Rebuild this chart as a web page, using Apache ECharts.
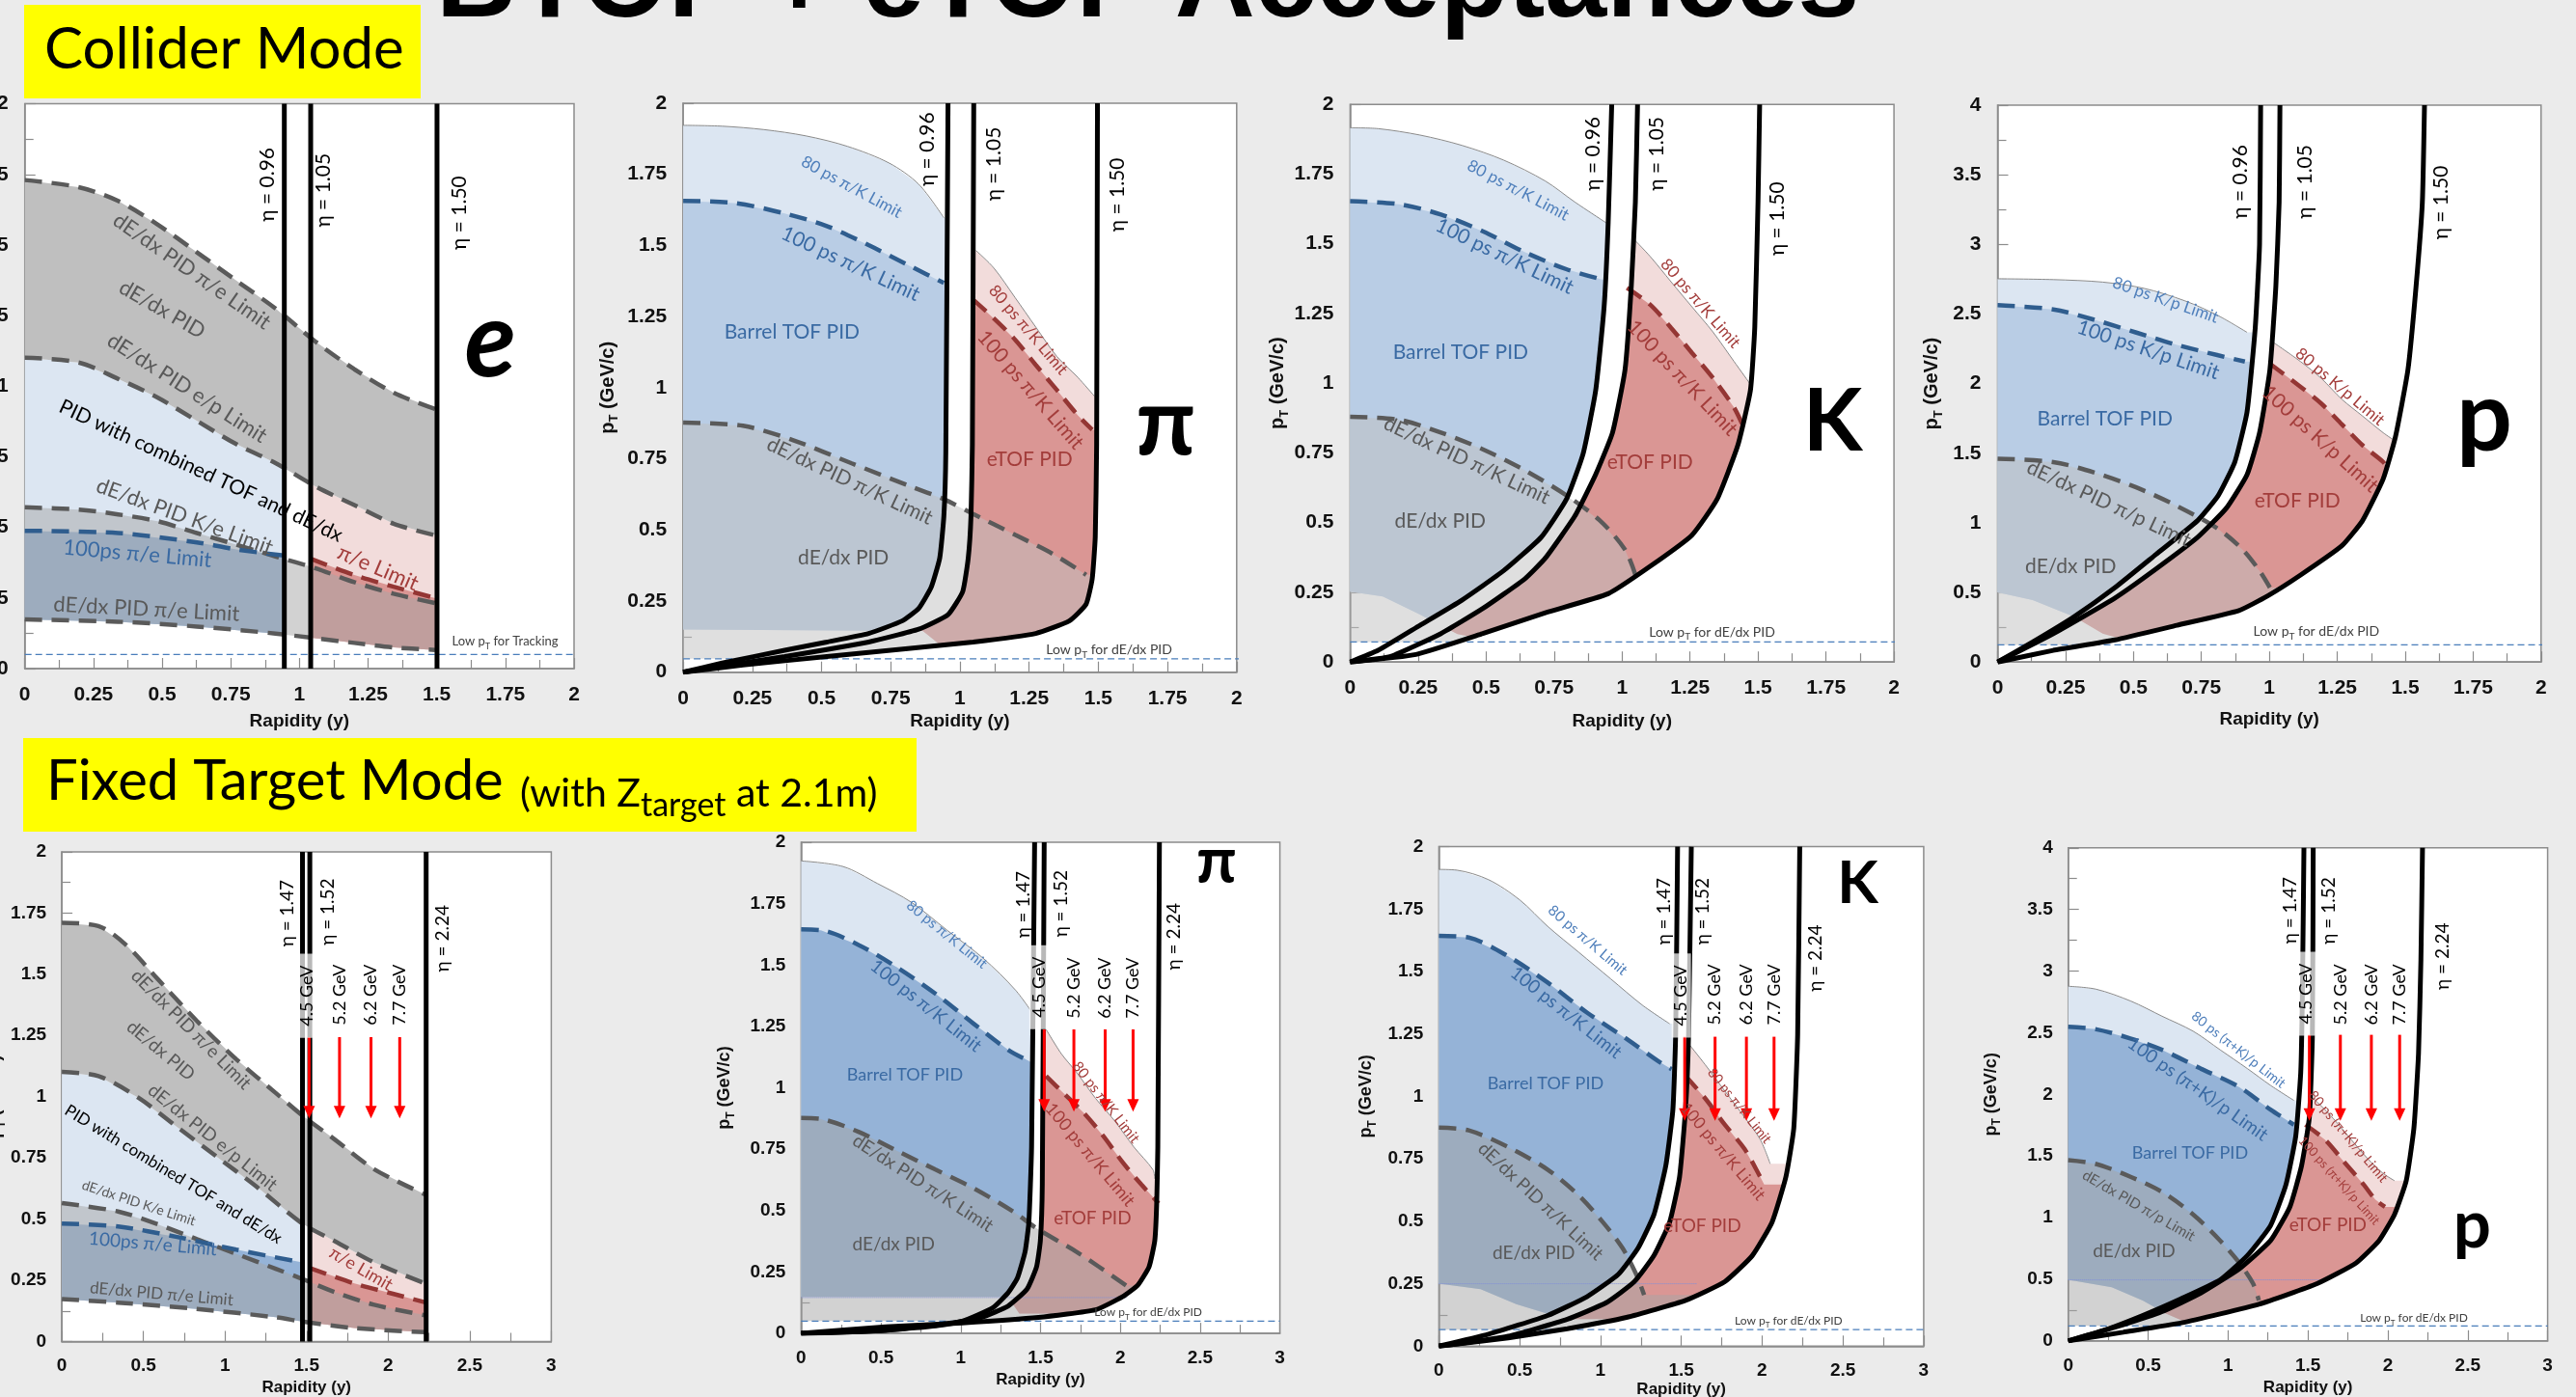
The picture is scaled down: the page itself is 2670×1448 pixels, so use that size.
<!DOCTYPE html>
<html><head><meta charset="utf-8">
<script src="https://cdn.jsdelivr.net/npm/echarts/dist/echarts.min.js"></script>
<style>html,body{margin:0;padding:0;background:#ebebeb;}#c{width:2670px;height:1448px;}</style>
</head><body><div id="c"></div>
<script>
// ---------------- DATA ----------------
// Panel 1: collider, electrons  [rapidity, pT]
const p1U   = [[0,1.73],[.196,1.705],[.34,1.656],[.483,1.573],[.627,1.474],[.77,1.374],[.913,1.275],[1.057,1.159],[1.2,1.06],[1.343,.977],[1.494,.919]];
const p1E   = [[0,1.101],[.196,1.084],[.34,1.026],[.483,.96],[.627,.877],[.77,.795],[.913,.728],[1.057,.646],[1.2,.579],[1.343,.513],[1.494,.472]];
const p1K   = [[0,.571],[.196,.563],[.34,.546],[.483,.522],[.627,.48],[.77,.439],[.913,.397],[1.057,.356],[1.2,.306],[1.343,.265],[1.494,.232]];
const p1B   = [[0,.488],[.34,.48],[.627,.447],[.77,.422],[.945,.4]];
const p1R   = [[1.041,.389],[1.2,.331],[1.343,.29],[1.501,.248]];
const p1Bot = [[0,.174],[.34,.166],[.627,.149],[.913,.124],[1.2,.091],[1.343,.075],[1.494,.066]];
const p1Eta = [.945, 1.041, 1.501];
const p1LowPT = .05;

// Panel 2: collider, pions
const p2Tof80   = [[0,1.922],[.141,1.919],[.292,1.907],[.443,1.885],[.594,1.848],[.745,1.789],[.851,1.715],[.942,1.597]];
const p2Tof100  = [[0,1.656],[.186,1.649],[.367,1.612],[.519,1.568],[.67,1.501],[.821,1.427],[.942,1.368]];
const p2Dedx    = [[0,.877],[.216,.866],[.398,.815],[.609,.734],[.821,.653],[.942,.608],[1.048,.556],[1.199,.483],[1.335,.416],[1.456,.342]];
const p2Etof80  = [[1.058,1.482],[1.123,1.42],[1.199,1.317],[1.274,1.213],[1.35,1.11],[1.426,1.036],[1.486,.97]];
const p2Etof100 = [[1.048,1.309],[1.123,1.243],[1.199,1.169],[1.274,1.08],[1.35,.992],[1.426,.903],[1.478,.852]];
const p2Eta096  = [[0,0],[.141,.032],[.367,.077],[.519,.106],[.67,.136],[.791,.18],[.851,.224],[.896,.298],[.927,.401],[.942,.549],[.949,.77],[.957,2.0]];
const p2Eta105  = [[0,0],[.141,.021],[.367,.055],[.67,.106],[.851,.151],[.957,.202],[1.01,.283],[1.03,.401],[1.04,.549],[1.045,.8],[1.05,2.0]];
const p2Eta150  = [[0,0],[.216,.025],[.519,.055],[.821,.084],[1.048,.106],[1.274,.136],[1.395,.18],[1.456,.239],[1.478,.328],[1.489,.475],[1.494,.8],[1.497,2.0]];
const p2LowB    = [[0,.15],[.866,.145],[.942,.085],[3.5,.085]];
const p2LowPT = .047;

// Panel 3: collider, kaons
const p3Tof80   = [[0,1.916],[.103,1.913],[.257,1.89],[.411,1.853],[.565,1.8],[.718,1.725],[.826,1.65],[.942,1.575]];
const p3Tof100  = [[0,1.653],[.18,1.642],[.334,1.605],[.488,1.545],[.642,1.47],[.795,1.409],[.926,1.372]];
const p3Dedx    = [[0,.88],[.18,.869],[.334,.823],[.488,.763],[.642,.688],[.795,.598],[.918,.508],[1.011,.403],[1.049,.313]];
const p3Etof80  = [[1.038,1.522],[1.103,1.455],[1.18,1.364],[1.257,1.274],[1.334,1.184],[1.411,1.079],[1.472,.996]];
const p3Etof100 = [[1.018,1.342],[1.103,1.282],[1.18,1.199],[1.257,1.109],[1.334,1.019],[1.411,.914],[1.442,.853]];
const p3Eta096  = [[0,0],[.103,.042],[.257,.132],[.411,.222],[.565,.328],[.703,.448],[.795,.583],[.857,.748],[.903,.974],[.934,1.274],[.949,1.575],[.962,2.0]];
const p3Eta105  = [[0,0],[.149,.02],[.334,.102],[.488,.192],[.642,.298],[.718,.373],[.826,.523],[.903,.673],[.965,.823],[1.011,1.049],[1.034,1.349],[1.049,1.65],[1.057,2.0]];
const p3Eta150  = [[0,0],[.242,.027],[.488,.102],[.718,.177],[.949,.245],[1.103,.343],[1.257,.455],[1.349,.583],[1.426,.778],[1.472,.974],[1.488,1.199],[1.5,1.65],[1.506,2.0]];
const p3LowB    = [[0,.252],[.12,.235],[.257,.17],[.395,.1],[.45,.09],[3.5,.09]];
const p3LowPT = .072;

// Panel 4: collider, protons
const p4Tof80   = [[0,2.753],[.205,2.747],[.387,2.729],[.539,2.684],[.69,2.594],[.812,2.488],[.918,2.368]];
const p4Tof100  = [[0,2.563],[.205,2.533],[.357,2.458],[.508,2.368],[.66,2.278],[.812,2.203],[.91,2.158]];
const p4Dedx    = [[0,1.461],[.205,1.436],[.357,1.361],[.508,1.256],[.66,1.121],[.812,.956],[.903,.805],[.964,.655],[1.002,.535]];
const p4Etof80  = [[1.017,2.293],[1.115,2.158],[1.191,2.038],[1.267,1.887],[1.343,1.767],[1.419,1.647],[1.464,1.587]];
const p4Etof100 = [[1.002,2.143],[1.115,1.977],[1.191,1.857],[1.267,1.707],[1.343,1.557],[1.419,1.437],[1.434,1.391]];
const p4Eta096  = [[0,0],[.129,.144],[.281,.325],[.432,.535],[.584,.775],[.736,1.016],[.812,1.196],[.873,1.437],[.918,1.797],[.948,2.398],[.964,3.0],[.968,4.0]];
const p4Eta105  = [[0,0],[.205,.204],[.432,.46],[.584,.67],[.736,.896],[.842,1.106],[.918,1.346],[.964,1.647],[1.002,2.098],[1.024,2.699],[1.036,3.3],[1.039,4.0]];
const p4Eta150  = [[0,0],[.205,.084],[.432,.159],[.66,.264],[.888,.37],[.994,.475],[1.115,.625],[1.267,.835],[1.343,1.016],[1.419,1.316],[1.464,1.617],[1.51,2.098],[1.54,2.699],[1.563,3.3],[1.571,4.0]];
const p4LowB    = [[0,.5],[.129,.445],[.281,.325],[.387,.204],[.45,.17],[3.5,.17]];
const p4LowPT = .123;

// Panel 5: fixed target, electrons
const p5U   = [[0,1.71],[.224,1.697],[.393,1.62],[.587,1.481],[.828,1.309],[1.069,1.153],[1.311,1.015],[1.48,.92],[1.673,.825],[1.914,.704],[2.228,.6]];
const p5E   = [[0,1.101],[.224,1.084],[.466,.997],[.707,.876],[.949,.755],[1.19,.634],[1.48,.479],[1.673,.41],[1.914,.323],[2.228,.237]];
const p5K   = [[0,.565],[.345,.531],[.587,.479],[.828,.418],[1.069,.358],[1.311,.297],[1.48,.254],[1.673,.202],[1.914,.15],[2.228,.107]];
const p5B   = [[0,.482],[.345,.47],[.707,.427],[1.069,.375],[1.475,.323]];
const p5R   = [[1.52,.3],[1.793,.237],[2.035,.194],[2.233,.159]];
const p5Bot = [[0,.173],[.345,.159],[.828,.133],[1.311,.099],[1.48,.081],[1.793,.055],[2.228,.038]];
const p5Eta = [1.475, 1.52, 2.233];

// Panel 6: fixed target, pions
const p6Tof80   = [[0,1.924],[.263,1.901],[.478,1.832],[.69,1.756],[.914,1.642],[1.14,1.528],[1.343,1.398],[1.463,1.292]];
const p6Tof100  = [[0,1.645],[.124,1.642],[.363,1.581],[.602,1.49],[.842,1.383],[1.081,1.261],[1.296,1.155],[1.451,1.101]];
const p6Dedx    = [[0,.877],[.124,.873],[.363,.82],[.602,.743],[.842,.667],[1.081,.591],[1.32,.5],[1.487,.423],[1.726,.332],[2.037,.195]];
const p6Etof80  = [[1.535,1.238],[1.63,1.139],[1.726,1.063],[1.845,.957],[1.965,.865],[2.085,.759],[2.204,.667],[2.216,.629]];
const p6Etof100 = [[1.535,1.048],[1.654,.972],[1.774,.896],[1.893,.804],[2.013,.698],[2.132,.606],[2.24,.53]];
const p6Eta147  = [[0,0],[.292,.005],[.65,.02],[1.009,.05],[1.2,.104],[1.296,.165],[1.355,.225],[1.403,.332],[1.427,.454],[1.444,.759],[1.463,2.0]];
const p6Eta152  = [[0,0],[.531,.012],[.889,.035],[1.128,.065],[1.296,.111],[1.415,.18],[1.475,.271],[1.499,.378],[1.511,.606],[1.523,2.0]];
const p6Eta224  = [[0,0],[.531,.027],[1.009,.043],[1.487,.065],[1.845,.096],[2.013,.149],[2.108,.195],[2.18,.271],[2.216,.378],[2.228,.53],[2.235,.759],[2.245,2.0]];
const p6LowB    = [[0,.149],[1.296,.149],[1.367,.081],[3.5,.081]];
const p6LowPT = .05;

// Panel 7: fixed target, kaons
const p7Tof80   = [[0,1.909],[.112,1.906],[.307,1.868],[.502,1.786],[.673,1.681],[.868,1.576],[1.063,1.471],[1.258,1.366],[1.428,1.291]];
const p7Tof100  = [[0,1.643],[.185,1.636],[.429,1.561],[.673,1.456],[.916,1.336],[1.16,1.231],[1.355,1.142],[1.44,1.109]];
const p7Dedx    = [[0,.875],[.185,.864],[.429,.797],[.673,.707],[.868,.602],[1.014,.497],[1.136,.393],[1.221,.288],[1.27,.205]];
const p7Etof80  = [[1.538,1.217],[1.648,1.127],[1.769,1.022],[1.891,.917],[1.989,.827],[2.05,.73]];
const p7Etof100 = [[1.526,1.082],[1.648,.992],[1.769,.887],[1.891,.79],[1.989,.677],[2.013,.647]];
const p7Eta147  = [[0,0],[.307,.048],[.673,.123],[.916,.198],[1.111,.288],[1.233,.393],[1.331,.527],[1.404,.722],[1.448,.947],[1.465,1.246],[1.477,2.0]];
const p7Eta152  = [[0,0],[.429,.04],[.795,.108],[1.038,.175],[1.209,.258],[1.331,.363],[1.428,.497],[1.489,.677],[1.526,.947],[1.545,1.246],[1.562,2.0]];
const p7Eta224  = [[0,0],[.429,.033],[.795,.07],[1.16,.115],[1.526,.183],[1.769,.258],[1.94,.363],[2.062,.497],[2.147,.677],[2.196,.872],[2.22,1.246],[2.233,2.0]];
const p7LowB    = [[0,.25],[.258,.228],[.478,.168],[.673,.13],[.746,.108],[3.5,.108]];
const p7LowPT = .066;

// Panel 8: fixed target, protons
const p8Tof80   = [[0,2.877],[.175,2.853],[.393,2.756],[.587,2.634],[.781,2.513],[.951,2.361],[1.121,2.209],[1.266,2.073],[1.412,1.951]];
const p8Tof100  = [[0,2.549],[.175,2.528],[.393,2.452],[.587,2.361],[.829,2.209],[1.072,2.058],[1.266,1.876],[1.412,1.754]];
const p8Dedx    = [[0,1.466],[.175,1.435],[.393,1.329],[.587,1.208],[.781,1.026],[.951,.813],[1.072,.631],[1.157,.464],[1.193,.328]];
const p8Etof80  = [[1.509,1.997],[1.63,1.845],[1.751,1.663],[1.872,1.481],[1.969,1.36],[2.042,1.299]];
const p8Etof100 = [[1.484,1.754],[1.606,1.633],[1.727,1.451],[1.848,1.269],[1.921,1.147],[1.982,1.087]];
const p8Eta147  = [[0,0],[.223,.085],[.466,.206],[.708,.343],[.951,.495],[1.121,.692],[1.266,.935],[1.363,1.269],[1.424,1.663],[1.455,2.179],[1.465,2.786],[1.475,4.0]];
const p8Eta152  = [[0,0],[.344,.131],[.587,.237],[.829,.388],[1.072,.586],[1.266,.813],[1.387,1.087],[1.46,1.42],[1.509,1.815],[1.528,2.483],[1.533,4.0]];
const p8Eta224  = [[0,0],[.344,.07],[.708,.146],[1.193,.297],[1.557,.464],[1.8,.631],[1.945,.813],[2.042,1.026],[2.115,1.299],[2.163,1.724],[2.192,2.331],[2.207,3.09],[2.217,4.0]];
const p8LowB    = [[0,.495],[.272,.434],[.466,.328],[.611,.222],[.72,.161],[3.5,.161]];
const p8LowPT = .121;

// Fixed-target beam energy arrows: x positions, [top, bottom]
const energyLabels = ['4.5 GeV','5.2 GeV','6.2 GeV','7.7 GeV'];
const p5ArrowX = [1.516,1.702,1.895,2.071], p5ArrowY = [1.243,.911];
const p6ArrowX = [1.523,1.709,1.905,2.08],  p6ArrowY = [1.238,.903];
const p7ArrowX = [1.521,1.709,1.903,2.074], p7ArrowY = [1.239,.902];
const p8ArrowX = [1.509,1.703,1.897,2.074], p8ArrowY = [2.483,1.785];

// ---------------- helpers ----------------
const LATO = 'Lato, "Noto Sans", sans-serif';
const ARIAL = '"Liberation Sans", Arial, sans-serif';
const COL = {lb:'#dce6f2', cb:'#b9cde5', fb:'#95b3d7', lp:'#f2dcdb', rd:'#da9694',
  ovC:'rgba(191,191,191,0.5)', ovF:'rgba(165,165,165,0.5)', band:'#bfbfbf',
  dG:'#5a5a5a', dB:'#2f5d8e', dR:'#943634', thin:'#8a8a8a'};
const DASH = [18,10];

function yAt(c,x){ if(x<=c[0][0])return c[0][1]; const n=c.length; if(x>=c[n-1][0])return c[n-1][1];
  for(let i=1;i<n;i++){ if(x<=c[i][0]){const a=c[i-1],b=c[i]; return a[1]+(b[1]-a[1])*(x-a[0])/(b[0]-a[0]);} } }
function etaX(e,p){ if(p<=e[0][1])return e[0][0]; const n=e.length; if(p>=e[n-1][1])return e[n-1][0];
  for(let i=1;i<n;i++){ if(p<=e[i][1]){const a=e[i-1],b=e[i]; return a[0]+(b[0]-a[0])*(p-a[1])/(b[1]-a[1]);} } }
function cross(f,s){ if(typeof s==='number')return s; let lo=0,hi=3.5;
  for(let i=0;i<50;i++){const m=(lo+hi)/2; if(m-etaX(s,yAt(f,m))<0)lo=m; else hi=m;} return (lo+hi)/2; }
function side(pts,s,p0,p1){ if(typeof s==='number')return;
  if(p1>p0){ s.forEach(q=>{ if(q[1]>p0&&q[1]<p1)pts.push(q); }); }
  else { for(let i=s.length-1;i>=0;i--){const q=s[i]; if(q[1]<p0&&q[1]>p1)pts.push(q);} } }
function region(top,bot,left,right){
  const xa=cross(bot,left), xb=cross(top,left), xc=cross(top,right), xd=cross(bot,right);
  const pa=yAt(bot,xa), pb=yAt(top,xb), pc=yAt(top,xc), pd=yAt(bot,xd);
  const pts=[[xa,pa]]; side(pts,left,pa,pb); pts.push([xb,pb]);
  top.forEach(p=>{ if(p[0]>xb&&p[0]<xc)pts.push(p); }); pts.push([xc,pc]);
  side(pts,right,pc,pd); pts.push([xd,pd]);
  for(let i=bot.length-1;i>=0;i--){const p=bot[i]; if(p[0]<xd&&p[0]>xa)pts.push(p);}
  return pts;
}
const hline = v => [[0,v],[3.5,v]];

const opt = {animation:false, backgroundColor:'#ebebeb', grid:[], xAxis:[], yAxis:[], series:[], graphic:[]};

function addGrid(r,xmax,xint,ymax,yint,s){
  const gi=opt.grid.length;
  opt.grid.push({left:r[0],top:r[1],width:r[2],height:r[3],show:true,backgroundColor:'#ffffff',borderColor:'#8c8c8c',borderWidth:1.5,containLabel:false,outerBoundsMode:'none'});
  const lab={show:true,margin:s.margin,fontSize:s.lf,fontWeight:'bold',color:'#111',fontFamily:ARIAL};
  const tick={show:true,inside:true,length:11,lineStyle:{color:'#8c8c8c',width:1.2}};
  const minor={show:true,splitNumber:2,length:9,lineStyle:{color:'#8c8c8c',width:1.2}};
  const al={show:true,onZero:false,lineStyle:{color:'#8c8c8c',width:1.5}};
  opt.xAxis.push({gridIndex:gi,type:'value',min:0,max:xmax,interval:xint,axisLine:al,axisTick:tick,minorTick:minor,
    splitLine:{show:false},minorSplitLine:{show:false},axisLabel:lab,name:'Rapidity (y)',nameLocation:'middle',nameGap:s.xGap,
    nameTextStyle:{fontSize:s.nf,fontWeight:'bold',color:'#111',fontFamily:ARIAL}});
  opt.yAxis.push({gridIndex:gi,type:'value',min:0,max:ymax,interval:yint,axisLine:al,axisTick:tick,minorTick:minor,
    splitLine:{show:false},minorSplitLine:{show:false},axisLabel:lab,name:'{a|p}{s|T}{a| (GeV/c)}',nameLocation:'middle',nameGap:s.yGap,
    nameTextStyle:{rich:{a:{fontSize:s.tf,fontWeight:'bold',color:'#111',fontFamily:ARIAL,verticalAlign:'bottom',padding:[0,0,3,0]},
      s:{fontSize:Math.round(s.tf*0.65),fontWeight:'bold',color:'#111',fontFamily:ARIAL,verticalAlign:'bottom'}}}});
  return gi;
}
function poly(gi,pts,color){
  opt.series.push({type:'custom',xAxisIndex:gi,yAxisIndex:gi,silent:true,z:1,clip:true,data:[pts[0]],
    renderItem:(p,api)=>({type:'polygon',shape:{points:pts.map(q=>api.coord(q))},style:{fill:color}})});
}
function line(gi,data,color,width,type,smooth,z){
  opt.series.push({type:'line',xAxisIndex:gi,yAxisIndex:gi,data:data,symbol:'none',showSymbol:false,smooth:smooth||0,silent:true,z:z||3,clip:true,
    lineStyle:{color:color,width:width,type:type||'solid',cap:'butt'}});
}
const KIND = {
  g:s=>({fill:'#595959',fontSize:s,fontFamily:LATO}),
  k:s=>({fill:'#000',fontSize:s,fontFamily:LATO}),
  b:s=>({fill:'#3a6aa3',fontSize:s,fontFamily:LATO}),
  bl:s=>({fill:'#4f7fbb',fontSize:s,fontFamily:LATO}),
  r:s=>({fill:'#a33d3b',fontSize:s,fontFamily:LATO}),
  eta:s=>({fill:'#000',fontSize:s,fontFamily:LATO}),
  gev:s=>({fill:'#000',fontSize:s,fontFamily:LATO}),
  gevb:s=>({fill:'#000',fontSize:s,fontFamily:LATO,backgroundColor:'rgba(255,255,255,0.72)',padding:[1,12,1,12]}),
  big:s=>({fill:'#000',fontSize:s,fontFamily:LATO,fontWeight:'bold'}),
  bigi:s=>({fill:'#000',fontSize:s,fontFamily:LATO,fontWeight:'bold',fontStyle:'italic'}),
  low:s=>({rich:{a:{fill:'#404040',fontSize:s,fontFamily:LATO,verticalAlign:'bottom',padding:[0,0,3,0]},
                 s:{fill:'#404040',fontSize:Math.round(s*0.7),fontFamily:LATO,verticalAlign:'bottom'}}})
};
function labels(gi,L){
  opt.series.push({type:'custom',xAxisIndex:gi,yAxisIndex:gi,silent:true,z:8,data:L.map(l=>[l[1],l[2]]),
    renderItem:(p,api)=>{ const l=L[p.dataIndex]; const c=api.coord([l[1],l[2]]);
      return {type:'text',x:c[0],y:c[1],rotation:-l[3]*Math.PI/180,
        style:Object.assign({text:l[0],align:'center',verticalAlign:'middle'},KIND[l[4]](l[5]))}; }});
}
function arrows(gi,X,Y){
  opt.series.push({type:'custom',xAxisIndex:gi,yAxisIndex:gi,silent:true,z:7,data:X.map(x=>[x,Y[0],Y[1]]),
    encode:{x:0,y:[1,2]},
    renderItem:(p,api)=>{ const a=api.coord([api.value(0),api.value(1)]), b=api.coord([api.value(0),api.value(2)]);
      const h=13,w=6;
      return {type:'group',children:[
        {type:'line',shape:{x1:a[0],y1:a[1],x2:b[0],y2:b[1]-h+1},style:{stroke:'#ff0000',lineWidth:3}},
        {type:'polygon',shape:{points:[[b[0]-w,b[1]-h],[b[0]+w,b[1]-h],[b[0],b[1]]]},style:{fill:'#ff0000'}}]}; }});
}

// electron panels
function ePanel(gi,U,E,K,B,R,Bot,eta,ymax){
  const [v1,v2,v3]=eta;
  poly(gi,region(E,Bot,0,v1),COL.lb);
  poly(gi,region(B,Bot,0,v1),COL.fb);
  poly(gi,region(E,Bot,v2,v3),COL.lp);
  poly(gi,region(R,Bot,v2,v3),COL.rd);
  poly(gi,region(K,Bot,0,v3),COL.ovF);
  poly(gi,region(U,E,0,v3),COL.band);
  [U,E,K,Bot].forEach(c=>line(gi,c,COL.dG,4.5,DASH,0.3,3));
  line(gi,B,COL.dB,4.5,DASH,0.3,3);
  line(gi,R,COL.dR,4.5,DASH,0.3,3);
  eta.forEach(v=>line(gi,[[v,0],[v,ymax]],'#000',5,'solid',0,4));
}
// hadron panels
function tofPanel(gi,T80,T100,Dedx,E80,E100,e1,e2,e3,lowB,lowPT,blue,ov){
  poly(gi,region(T80,lowB,0,e1),COL.lb);
  poly(gi,region(T100,lowB,0,e1),blue);
  poly(gi,region(E80,lowB,e2,e3),COL.lp);
  poly(gi,region(E100,lowB,e2,e3),COL.rd);
  poly(gi,region(Dedx,hline(lowPT),0,e3),ov);
  line(gi,T80,COL.thin,1,'solid',0.3,2);
  line(gi,E80,COL.thin,1,'solid',0.3,2);
  line(gi,T100,COL.dB,4.5,DASH,0.3,3);
  line(gi,E100,COL.dR,4.5,DASH,0.3,3);
  line(gi,Dedx,COL.dG,4.5,DASH,0.3,3);
  line(gi,[[0,lowPT],[3,lowPT]],'#4a7ebb',1.3,[7,4],0,3);
  [e1,e2,e3].forEach(e=>line(gi,e,'#000',5,'solid',0.15,4));
}

// ---------------- panels ----------------
const SC = {margin:17,lf:21,nf:19,tf:20};
const SF = {margin:16,lf:19,nf:17,tf:18};

// 1
let g = addGrid([25.7,107.6,569.3,585.4],2,.25,2,.25,Object.assign({xGap:45,yGap:55},SC));
ePanel(g,p1U,p1E,p1K,p1B,p1R,p1Bot,p1Eta,2);
line(g,[[0,p1LowPT],[2,p1LowPT]],'#4a7ebb',1.3,[7,4],0,3);
labels(g,[
  ['dE/dx PID π/e Limit',.608,1.407,34.9,'g',22],
  ['dE/dx PID',.5,1.272,30,'g',22],
  ['dE/dx PID e/p Limit',.591,.993,32.6,'g',22],
  ['PID with combined TOF and dE/dx',.641,.70,25,'k',21],
  ['dE/dx PID K/e Limit',.582,.538,20,'g',22],
  ['100ps π/e Limit',.41,.406,5,'b',22],
  ['dE/dx PID π/e Limit',.443,.21,3,'g',22],
  ['π/e Limit',1.286,.356,23,'r',22],
  ['{a|Low p}{s|T}{a| for Tracking}',1.749,.091,0,'low',13],
  ['η = 0.96',.882,1.714,-90,'eta',21],
  ['η = 1.05',1.088,1.694,-90,'eta',21],
  ['η = 1.50',1.584,1.614,-90,'eta',21],
  ['e',1.695,1.158,0,'bigi',110]
]);

// 2
g = addGrid([708.1,106.9,573.7,589.8],2,.25,2,.25,Object.assign({xGap:42,yGap:65},SC));
tofPanel(g,p2Tof80,p2Tof100,p2Dedx,p2Etof80,p2Etof100,p2Eta096,p2Eta105,p2Eta150,p2LowB,p2LowPT,COL.cb,COL.ovC);
labels(g,[
  ['80 ps π/K Limit',.609,1.705,28.5,'bl',17],
  ['100 ps π/K Limit',.605,1.435,25,'b',21],
  ['Barrel TOF PID',.393,1.196,0,'b',21],
  ['dE/dx PID π/K Limit',.602,.672,25,'g',21],
  ['dE/dx PID',.579,.401,0,'g',21],
  ['eTOF PID',1.252,.748,0,'r',21],
  ['100 ps π/K Limit',1.255,.992,49,'r',21],
  ['80 ps π/K Limit',1.247,1.203,49.5,'r',17],
  ['{a|Low p}{s|T}{a| for dE/dx PID}',1.539,.074,0,'low',14],
  ['η = 0.96',.881,1.838,-90,'eta',21],
  ['η = 1.05',1.123,1.786,-90,'eta',21],
  ['η = 1.50',1.569,1.678,-90,'eta',21],
  ['π',1.743,.872,0,'big',98]
]);

// 3
g = addGrid([1399.4,108.2,563.7,578],2,.25,2,.25,Object.assign({xGap:52,yGap:52},SC));
tofPanel(g,p3Tof80,p3Tof100,p3Dedx,p3Etof80,p3Etof100,p3Eta096,p3Eta105,p3Eta150,p3LowB,p3LowPT,COL.cb,COL.ovC);
labels(g,[
  ['80 ps π/K Limit',.618,1.692,27.6,'bl',17],
  ['100 ps π/K Limit',.568,1.455,25.5,'b',21],
  ['Barrel TOF PID',.406,1.109,0,'b',21],
  ['dE/dx PID π/K Limit',.429,.723,25,'g',21],
  ['dE/dx PID',.331,.505,0,'g',21],
  ['eTOF PID',1.103,.715,0,'r',21],
  ['100 ps π/K Limit',1.222,1.019,46.7,'r',21],
  ['80 ps π/K Limit',1.288,1.286,49,'r',17],
  ['{a|Low p}{s|T}{a| for dE/dx PID}',1.331,.102,0,'low',14],
  ['η = 0.96',.895,1.823,-90,'eta',21],
  ['η = 1.05',1.126,1.823,-90,'eta',21],
  ['η = 1.50',1.572,1.59,-90,'eta',21],
  ['K',1.775,.86,0,'big',90]
]);

// 4
g = addGrid([2070.5,109,563.3,577.2],2,.25,4,.5,Object.assign({xGap:50,yGap:55},SC));
tofPanel(g,p4Tof80,p4Tof100,p4Dedx,p4Etof80,p4Etof100,p4Eta096,p4Eta105,p4Eta150,p4LowB,p4LowPT,COL.cb,COL.ovC);
labels(g,[
  ['80 ps K/p Limit',.618,2.6,19,'bl',17],
  ['100 ps K/p Limit',.554,2.242,18.5,'b',21],
  ['Barrel TOF PID',.395,1.743,0,'b',21],
  ['dE/dx PID π/p Limit',.41,1.136,25,'g',21],
  ['dE/dx PID',.269,.685,0,'g',21],
  ['eTOF PID',1.103,1.16,0,'r',21],
  ['80 ps K/p Limit',1.26,1.977,40,'r',17],
  ['100 ps K/p Limit',1.187,1.602,42,'r',21],
  ['{a|Low p}{s|T}{a| for dE/dx PID}',1.173,.21,0,'low',14],
  ['η = 0.96',.895,3.45,-90,'eta',21],
  ['η = 1.05',1.13,3.45,-90,'eta',21],
  ['η = 1.50',1.631,3.3,-90,'eta',21],
  ['p',1.791,1.747,0,'big',102]
]);

// 5
g = addGrid([64.1,882.9,507.3,507.6],3,.5,2,.25,Object.assign({xGap:39,yGap:55},SF));
ePanel(g,p5U,p5E,p5K,p5B,p5R,p5Bot,p5Eta,2);
arrows(g,p5ArrowX,p5ArrowY);
labels(g,[
  ['dE/dx PID π/e Limit',.792,1.274,45,'g',19],
  ['dE/dx PID',.606,1.188,39.8,'g',19],
  ['dE/dx PID e/p Limit',.924,.833,38.6,'g',19],
  ['PID with combined TOF and dE/dx',.683,.683,31.4,'k',17],
  ['dE/dx PID K/e Limit',.471,.565,18.2,'g',14],
  ['100ps π/e Limit',.558,.398,5,'b',19],
  ['dE/dx PID π/e Limit',.611,.194,5,'g',17],
  ['π/e Limit',1.834,.297,30,'r',18],
  ['η = 1.47',1.383,1.749,-90,'eta',19],
  ['η = 1.52',1.629,1.755,-90,'eta',19],
  ['η = 2.24',2.336,1.646,-90,'eta',19],
  [energyLabels[0],1.50,1.412,-90,'gevb',18],
  [energyLabels[1],p5ArrowX[1],1.416,-90,'gev',18],
  [energyLabels[2],p5ArrowX[2],1.416,-90,'gev',18],
  [energyLabels[3],p5ArrowX[3],1.416,-90,'gev',18]
]);

// 6
g = addGrid([830.4,873,496.2,509.1],3,.5,2,.25,Object.assign({xGap:40,yGap:67},SF));
line(g,[[0,.146],[2.04,.146]],'#8090d8',1,'dotted',0,2);
tofPanel(g,p6Tof80,p6Tof100,p6Dedx,p6Etof80,p6Etof100,p6Eta147,p6Eta152,p6Eta224,p6LowB,p6LowPT,COL.fb,COL.ovF);
arrows(g,p6ArrowX,p6ArrowY);
labels(g,[
  ['80 ps π/K Limit',.913,1.624,39,'bl',15],
  ['100 ps π/K Limit',.782,1.334,38.5,'b',19],
  ['Barrel TOF PID',.65,1.051,0,'b',18],
  ['dE/dx PID π/K Limit',.763,.611,33,'g',19],
  ['dE/dx PID',.579,.363,0,'g',19],
  ['eTOF PID',1.826,.469,0,'r',19],
  ['100 ps π/K Limit',1.81,.728,50,'r',18],
  ['80 ps π/K Limit',1.91,.941,52,'r',15],
  ['{a|Low p}{s|T}{a| for dE/dx PID}',2.175,.081,0,'low',12],
  ['η = 1.47',1.391,1.746,-90,'eta',19],
  ['η = 1.52',1.63,1.75,-90,'eta',19],
  ['η = 2.24',2.336,1.616,-90,'eta',19],
  [energyLabels[0],1.49,1.41,-90,'gevb',18],
  [energyLabels[1],p6ArrowX[1],1.406,-90,'gev',18],
  [energyLabels[2],p6ArrowX[2],1.406,-90,'gev',18],
  [energyLabels[3],p6ArrowX[3],1.406,-90,'gev',18],
  ['π',2.603,1.919,0,'big',66]
]);

// 7
g = addGrid([1491.4,877.6,502.5,517.7],3,.5,2,.25,Object.assign({xGap:37,yGap:63},SF));
line(g,[[0,.25],[1.6,.25]],'#8090d8',1,'dotted',0,2);
tofPanel(g,p7Tof80,p7Tof100,p7Dedx,p7Etof80,p7Etof100,p7Eta147,p7Eta152,p7Eta224,p7LowB,p7LowPT,COL.fb,COL.ovF);
arrows(g,p7ArrowX,p7ArrowY);
labels(g,[
  ['80 ps π/K Limit',.921,1.625,40.5,'bl',15],
  ['100 ps π/K Limit',.787,1.336,38.3,'b',19],
  ['Barrel TOF PID',.66,1.052,0,'b',18],
  ['dE/dx PID π/K Limit',.629,.58,43,'g',19],
  ['dE/dx PID',.587,.373,0,'g',19],
  ['eTOF PID',1.63,.479,0,'r',19],
  ['100 ps π/K Limit',1.757,.779,50,'r',17],
  ['80 ps π/K Limit',1.86,.962,51,'r',14],
  ['{a|Low p}{s|T}{a| for dE/dx PID}',2.164,.097,0,'low',12],
  ['η = 1.47',1.392,1.741,-90,'eta',19],
  ['η = 1.52',1.63,1.741,-90,'eta',19],
  ['η = 2.24',2.33,1.554,-90,'eta',19],
  [energyLabels[0],1.50,1.404,-90,'gevb',18],
  [energyLabels[1],p7ArrowX[1],1.408,-90,'gev',18],
  [energyLabels[2],p7ArrowX[2],1.408,-90,'gev',18],
  [energyLabels[3],p7ArrowX[3],1.408,-90,'gev',18],
  ['K',2.591,1.85,0,'big',62]
]);

// 8
g = addGrid([2143.7,878.8,496.9,511],3,.5,4,.5,Object.assign({xGap:40,yGap:68},SF));
line(g,[[0,.495],[1.63,.495]],'#8090d8',1,'dotted',0,2);
tofPanel(g,p8Tof80,p8Tof100,p8Dedx,p8Etof80,p8Etof100,p8Eta147,p8Eta152,p8Eta224,p8LowB,p8LowPT,COL.fb,COL.ovF);
arrows(g,p8ArrowX,p8ArrowY);
labels(g,[
  ['80 ps (π+K)/p Limit',1.065,2.361,38,'bl',14],
  ['100 ps (π+K)/p Limit',.81,2.043,35,'b',19],
  ['Barrel TOF PID',.762,1.527,0,'b',18],
  ['dE/dx PID π/p Limit',.441,1.096,30,'g',15],
  ['dE/dx PID',.412,.728,0,'g',19],
  ['eTOF PID',1.625,.941,0,'r',19],
  ['80 ps (π+K)/p Limit',1.751,1.657,50,'r',14],
  ['100 ps (π+K)/p Limit',1.695,1.299,48,'r',13],
  ['{a|Low p}{s|T}{a| for dE/dx PID}',2.163,.17,0,'low',12],
  ['η = 1.47',1.387,3.493,-90,'eta',19],
  ['η = 1.52',1.63,3.49,-90,'eta',19],
  ['η = 2.24',2.345,3.12,-90,'eta',19],
  [energyLabels[0],1.49,2.816,-90,'gevb',18],
  [energyLabels[1],p8ArrowX[1],2.81,-90,'gev',18],
  [energyLabels[2],p8ArrowX[2],2.81,-90,'gev',18],
  [energyLabels[3],p8ArrowX[3],2.81,-90,'gev',18],
  ['p',2.527,.933,0,'big',69]
]);

// ---------------- titles ----------------
opt.graphic = [
  {type:'text',x:452,y:-15,z:100,style:{text:'BTOF + eTOF Acceptances',font:'bold 115px "Liberation Sans", Arial',fill:'#000',verticalAlign:'middle'}},
  {type:'rect',z:100,shape:{x:25,y:5,width:411,height:97},style:{fill:'#ffff00'}},
  {type:'text',x:46,y:52,z:101,style:{text:'Collider Mode',font:'60px Lato',fill:'#000',verticalAlign:'middle'}},
  {type:'rect',z:100,shape:{x:24,y:765,width:926,height:97},style:{fill:'#ffff00'}},
  {type:'text',x:48,y:810,z:101,style:{text:'Fixed Target Mode',font:'58px Lato',fill:'#000',verticalAlign:'middle'}},
  {type:'text',x:539,y:852,z:101,style:{text:'{b|(with Z}{s|target}{b| at 2.1m)}',verticalAlign:'bottom',align:'left',
    rich:{b:{fontSize:41,fontFamily:'Lato',fill:'#000',verticalAlign:'bottom',padding:[0,0,9,0]},
          s:{fontSize:34,fontFamily:'Lato',fill:'#000',verticalAlign:'bottom'}}}}
];

const chart = echarts.init(document.getElementById('c'), null, {renderer:'canvas'});
chart.setOption(opt);
</script></body></html>
